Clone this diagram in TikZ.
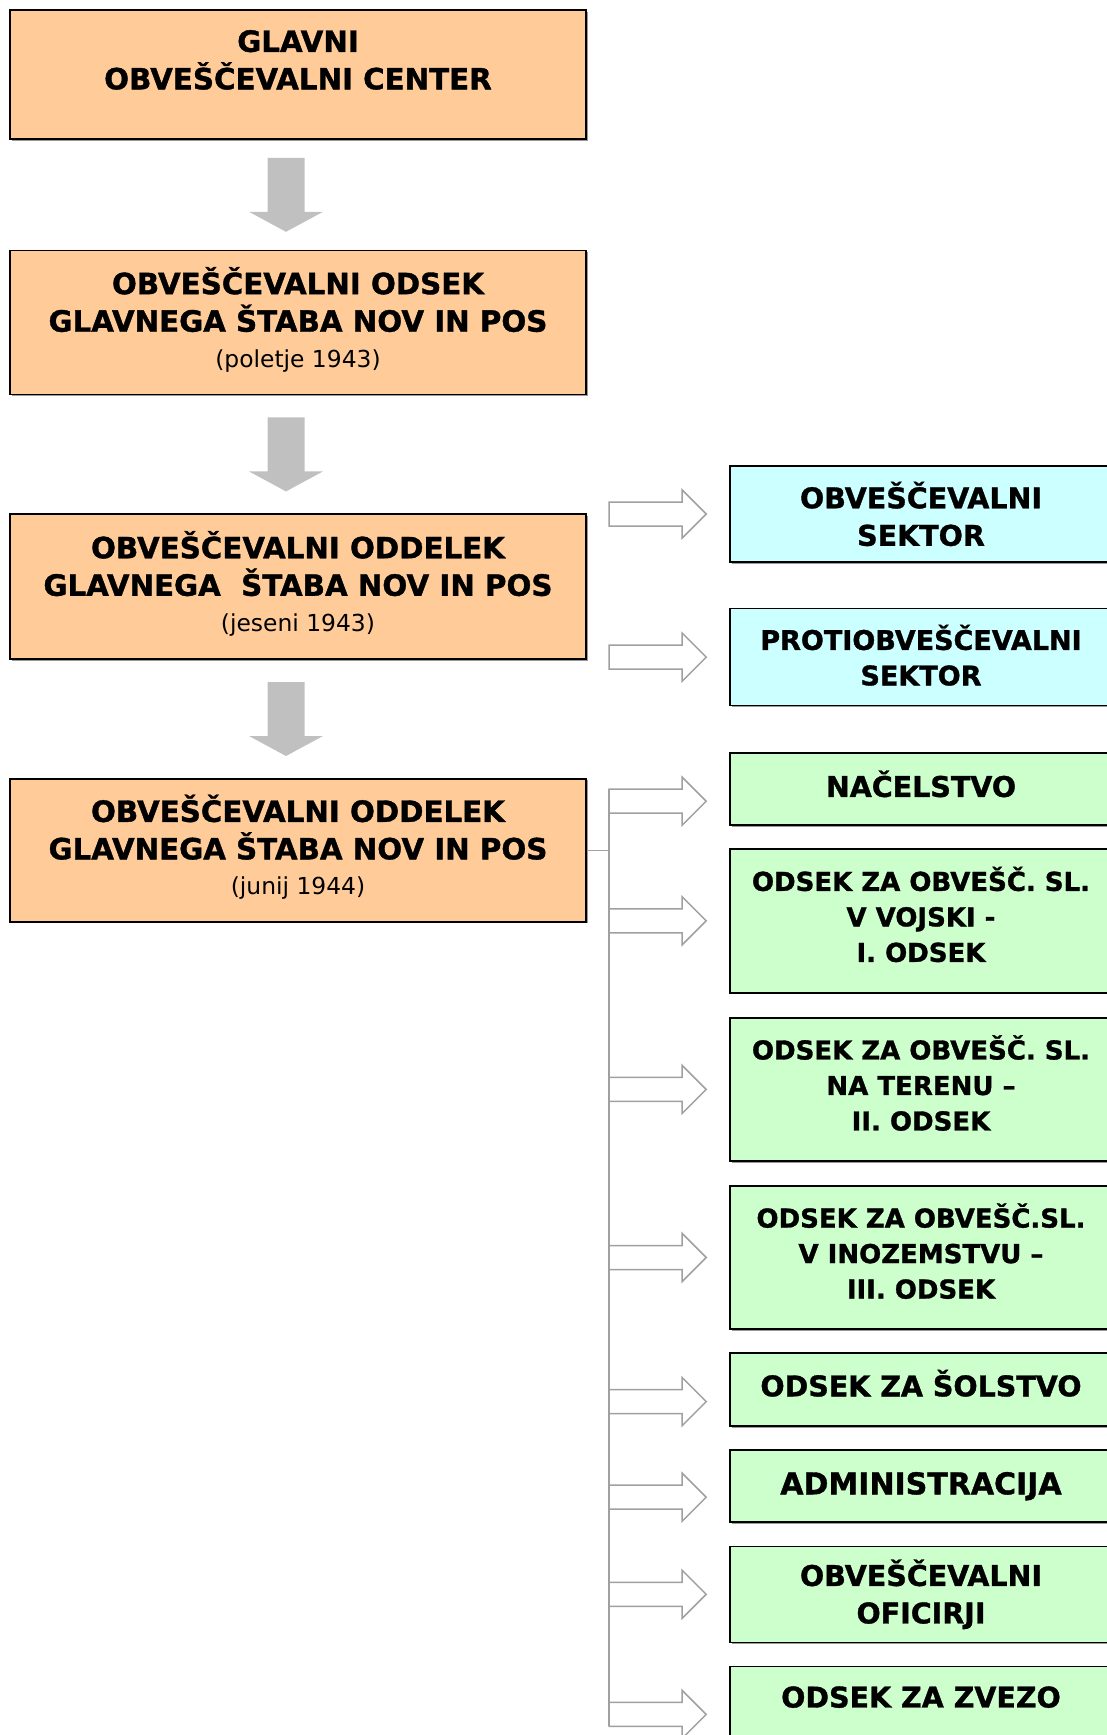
\documentclass[tikz,border=0pt]{standalone}
\usepackage{fontspec}
\setmainfont{DejaVu Sans}[BoldFeatures={FakeBold=1.2}]
\usetikzlibrary{positioning,calc,shadows}

\definecolor{peach}{HTML}{FFCC99}
\definecolor{icecyan}{HTML}{CCFFFF}
\definecolor{mintgreen}{HTML}{CCFFCC}
\definecolor{flowgray}{HTML}{C0C0C0}
\definecolor{linkgray}{HTML}{A0A0A0}

\newcommand{\titletxt}{\bfseries\fontsize{29.3}{37.5}\selectfont}
\newcommand{\bigtxt}{\bfseries\fontsize{28.5}{37.5}\selectfont}
\newcommand{\midtxt}{\bfseries\fontsize{26}{35.5}\selectfont}
\newcommand{\datetxt}{\mdseries\fontsize{23.4}{30}\selectfont}
% invisible depth to lift a text block inside its box
\newcommand{\lift}[1]{\rule[-#1]{0pt}{0pt}}

\tikzset{
  orgbox/.style={draw=black, line width=1.6pt, align=center, inner sep=0pt,
    drop shadow={shadow xshift=1.6pt, shadow yshift=-1.6pt, fill=black!40, opacity=1}},
  unitbox/.style={orgbox, fill=peach, minimum width=576pt, font=\titletxt},
  sectbox/.style={orgbox, fill=icecyan, minimum width=382pt, font=\bigtxt},
  deptbox/.style={orgbox, fill=mintgreen, minimum width=382pt, font=\bigtxt},
  flowarrow/.style={fill=flowgray, draw=none},
  linkarrow/.style={draw=linkgray, fill=white, line width=1.5pt, line join=miter},
  linkline/.style={draw=linkgray, line width=1.5pt}
}

\begin{document}
\begin{tikzpicture}[x=1pt, y=-1pt, node distance=24pt]
    \useasboundingbox (0,0) rectangle (1106,1735);
    % left column
    \node[unitbox, minimum height=129pt] (glc) at (298,74.5) {GLAVNI\\OBVEŠČEVALNI CENTER\lift{29.5pt}};
    \node[unitbox, minimum height=144pt, below=110pt of glc] (ods) {OBVEŠČEVALNI ODSEK\\GLAVNEGA ŠTABA NOV IN POS\\[-2pt]{\datetxt(poletje 1943)}\lift{11pt}};
    \node[unitbox, minimum height=145pt, below=118pt of ods] (odd1) {OBVEŠČEVALNI ODDELEK\\GLAVNEGA\ \ ŠTABA NOV IN POS\\[-2pt]{\datetxt(jeseni 1943)}\lift{11pt}};
    \node[unitbox, minimum height=143pt, below=118pt of odd1] (odd2) {OBVEŠČEVALNI ODDELEK\\GLAVNEGA ŠTABA NOV IN POS\\[-2pt]{\datetxt(junij 1944)}\lift{11pt}};
    % right column
    \node[sectbox, minimum height=96pt] (osek) at (921,514) {OBVEŠČEVALNI\\SEKTOR};
    \node[sectbox, minimum height=97pt, below=45pt of osek, font=\bfseries\fontsize{27}{35.5}\selectfont] (posek) {PROTIOBVEŠČEVALNI\\SEKTOR\lift{4pt}};
    \node[deptbox, minimum height=72pt, below=46pt of posek] (nac) {NAČELSTVO\lift{11pt}};
    \node[deptbox, font=\midtxt, minimum height=144pt, below=22pt of nac] (ods1) {ODSEK ZA OBVEŠČ. SL.\\V VOJSKI -\\I. ODSEK\lift{13pt}};
    \node[deptbox, font=\midtxt, minimum height=143pt, below=23.5pt of ods1] (ods2) {ODSEK ZA OBVEŠČ. SL.\\NA TERENU –\\II. ODSEK\lift{13pt}};
    \node[deptbox, font=\midtxt, minimum height=143pt, below=23.5pt of ods2] (ods3) {ODSEK ZA OBVEŠČ.SL.\\V INOZEMSTVU –\\III. ODSEK\lift{13pt}};
    \node[deptbox, minimum height=73pt, below=22.5pt of ods3] (sol) {ODSEK ZA ŠOLSTVO\lift{13pt}};
    \node[deptbox, minimum height=72pt, below=22.5pt of sol, font=\bfseries\fontsize{30}{37.5}\selectfont] (adm) {ADMINISTRACIJA\lift{4pt}};
    \node[deptbox, minimum height=96pt, below=22.5pt of adm] (ofi) {OBVEŠČEVALNI\\OFICIRJI};
    \node[deptbox, minimum height=72pt, below=22.5pt of ofi] (zve) {ODSEK ZA ZVEZO\lift{11pt}};
    % grey arrows down the left column
    \foreach \a/\b in {glc/ods, ods/odd1, odd1/odd2}
        \fill[flowarrow, shift={($(\a.south)!0.5!(\b.north)+(-12,0)$)}] (-18.5,-37) -- (18.5,-37) -- (18.5,17) -- (37,17) -- (0,37) -- (-37,17) -- (-18.5,17) -- cycle;
    % hollow arrows to the right column
    \foreach \b/\dy in {osek/0, posek/0, nac/12, ods1/0, ods2/0, ods3/0, sol/12, adm/11, ofi/0, zve/12}
        \draw[linkarrow, shift={($(\b.west)+(-23,\dy)$)}] (-97,-12) coordinate (\b-top) -- (-24,-12) -- (-24,-24) -- (0,0) -- (-24,24) -- (-24,12) -- (-97,12) coordinate (\b-bot) -- cycle;
    % bracket from the last unit
    \draw[linkline] (nac-top) -- (zve-bot);
    \draw[linkline] (odd2.east) -- (odd2.east -| nac-top);
\end{tikzpicture}
\end{document}
